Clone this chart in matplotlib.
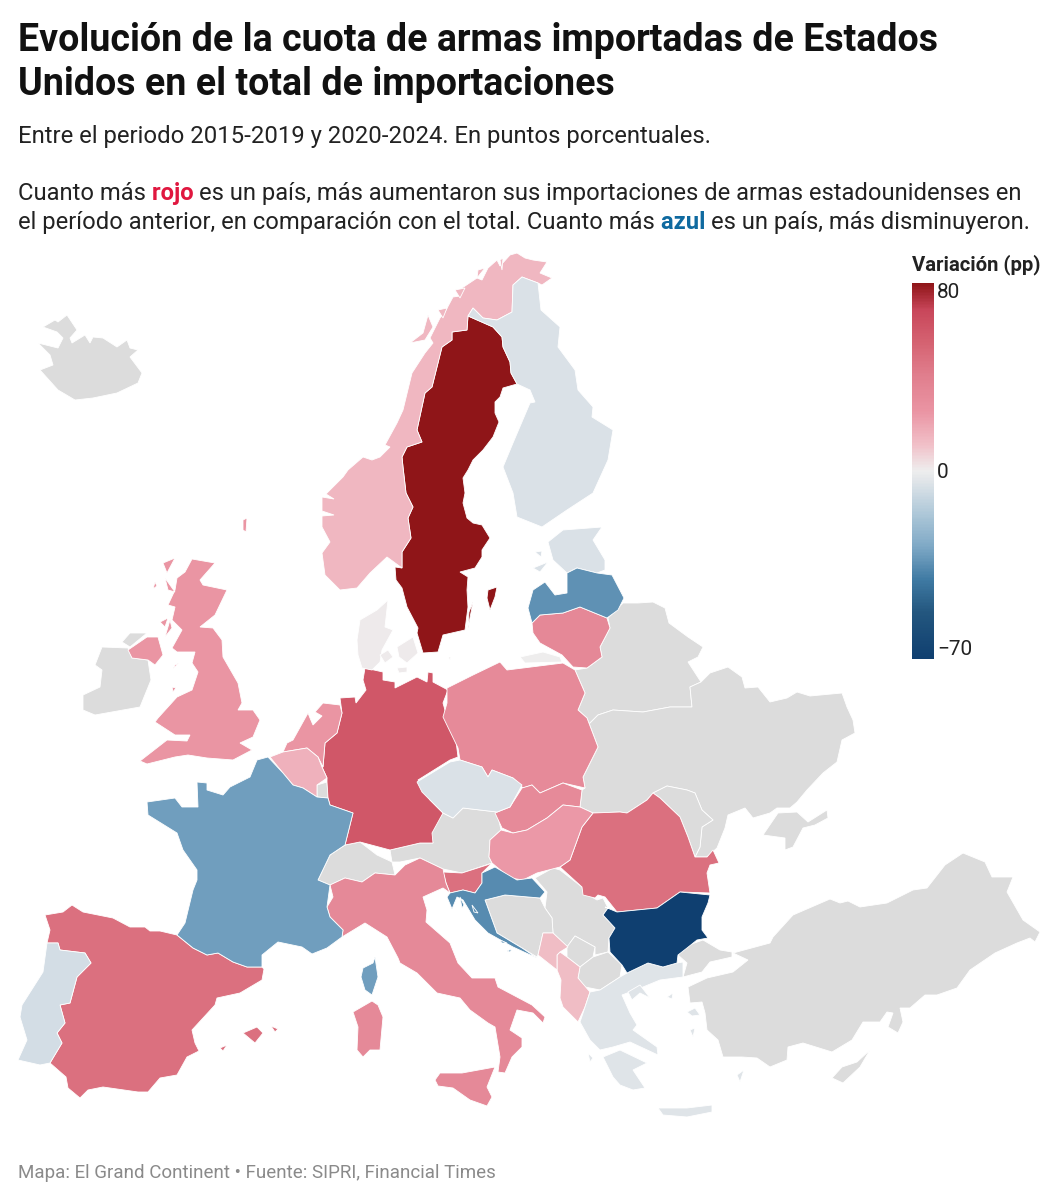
import matplotlib
matplotlib.use("Agg")
import matplotlib.pyplot as plt
from matplotlib.cm import ScalarMappable
from matplotlib.colors import LinearSegmentedColormap, TwoSlopeNorm
from matplotlib.patches import Polygon

plt.rcParams['font.family'] = ['Roboto', 'DejaVu Sans']

countries = ["SE", "DE", "ES", "RO", "SI", "IT", "PL", "SK", "LT", "UK", "NL", "HU", "NO", "BE",
             "AL", "ME", "DK", "KG", "FI", "PT", "GR", "CZ", "EE", "FR", "LV", "HR", "BG"]
values = [80, 60, 48, 48, 48, 33, 32, 32, 34, 25, 25, 24, 14, 16,
          12, 12, 1, 0, -5, -7, -4, -5, -5, -31, -34, -36, -70]
no_data = ["IS", "IE", "CH", "AT", "LU", "BY", "UA", "MD", "RS", "BA", "XK", "MK", "TR"]

legend_ticks = [-70, 0, 80]

title_lines = ["Evolución de la cuota de armas importadas de Estados",
               "Unidos en el total de importaciones"]
subtitle = "Entre el periodo 2015-2019 y 2020-2024. En puntos porcentuales."
source = "Mapa: El Grand Continent • Fuente: SIPRI, Financial Times"

# contornos trazados a mano sobre la imagen
shapes = {
    "SE": [[(468,316),(493,327),(502,337),(503,347),(510,362),(511,373),(517,384),(503,388),(500,397),(495,402),(495,413),(499,422),(493,437),(483,450),(473,460),(468,470),(463,478),(465,493),(463,503),(467,518),(473,523),(482,525),(490,538),(482,550),(482,557),(475,568),(460,572),(468,577),(467,590),(468,607),(465,630),(443,635),(438,652),(423,653),(417,633),(418,628),(407,607),(402,588),(396,580),(395,567),(402,568),(402,552),(411,538),(408,518),(413,507),(406,493),(403,467),(402,457),(407,447),(422,442),(417,430),(425,393),(432,387),(438,363),(442,347),(452,340),(452,332),(467,330)],
           [(488,590),(497,587),(495,597),(490,610),(487,598)],
           [(473,602),(468,628),(469,612)]],
    "NO": [[(547,262),(540,273),(552,278),(542,285),(538,283),(522,277),(513,285),(512,312),(497,320),(483,318),(473,308),(468,316),(467,330),(452,332),(452,340),(442,347),(438,363),(432,387),(425,393),(417,430),(422,442),(407,447),(402,457),(403,467),(406,493),(413,507),(408,518),(411,538),(402,552),(402,568),(387,557),(370,573),(357,588),(340,590),(325,575),(322,553),(330,542),(322,527),(322,516),(334,515),(322,511),(322,497),(334,499),(326,494),(343,477),(348,470),(363,457),(372,460),(380,457),(390,447),(385,445),(397,423),(403,410),(412,373),(425,353),(433,343),(430,338),(440,318),(445,312),(453,297),(460,296),(462,288),(477,278),(482,280),(488,268),(497,260),(500,266),(510,255),(517,253),(525,258),(533,260)],
           [(410,343),(423,333),(428,315),(433,327),(425,340)],
           [(438,310),(447,308),(443,318)],
           [(455,290),(465,288),(460,298)],
           [(478,270),(485,268),(477,278)],
           [(500,260),(503,258),(502,270)]],
    "FI": [[(522,277),(538,283),(541,310),(560,327),(558,347),(575,370),(578,390),(593,407),(592,417),(613,430),(608,460),(593,493),(567,510),(542,527),(517,517),(513,493),(503,467),(513,443),(530,403),(535,402),(530,390),(517,384),(511,373),(510,362),(503,347),(502,337),(493,327),(468,316),(473,308),(483,318),(497,320),(512,312),(513,285)]],
    "EE": [[(548,542),(563,530),(602,527),(593,540),(605,560),(605,570),(597,573),(577,568),(567,573),(553,560)],
           [(533,568),(548,562),(540,572)],
           [(535,552),(542,551),(541,557)]],
    "LV": [[(528,608),(533,590),(545,582),(555,595),(567,593),(567,573),(577,568),(597,573),(612,575),(624,598),(618,610),(607,618),(580,607),(563,613),(540,615),(532,623)]],
    "LT": [[(532,623),(540,615),(563,613),(580,607),(607,618),(610,628),(600,647),(602,657),(587,668),(573,667),(562,655),(540,643),(533,633)]],
    "DK": [[(388,600),(385,627),(393,630),(382,650),(380,662),(372,670),(362,668),(358,655),(357,640),(360,620),(377,610)],
           [(397,647),(413,637),(418,653),(407,663),(399,657)],
           [(380,655),(388,650),(393,657),(385,663)],
           [(397,668),(407,667),(407,672),(399,673)],
           [(448,657),(451,657),(450,660)]],
    "KG": [[(520,657),(543,652),(560,657),(562,662),(525,663)]],
    "DE": [[(365,668),(383,672),(383,680),(395,682),(395,688),(417,677),(427,682),(428,672),(433,673),(433,682),(448,690),(443,703),(447,717),(455,733),(458,757),(450,760),(418,780),(430,800),(443,813),(432,833),(433,843),(420,843),(390,850),(360,842),(345,845),(353,813),(330,805),(328,798),(327,782),(327,778),(322,767),(323,767),(325,743),(337,733),(342,713),(340,698),(355,697),(356,703),(366,690),(363,680)]],
    "NL": [[(342,713),(340,705),(323,703),(315,712),(322,716),(313,725),(310,718),(308,713),(293,740),(287,743),(283,752),(307,748),(318,757),(323,767),(325,743),(337,733)]],
    "BE": [[(270,757),(283,752),(307,748),(318,757),(322,767),(327,778),(317,785),(317,797),(303,788),(293,785),(283,773)]],
    "LU": [[(317,785),(327,782),(328,798),(317,797)]],
    "FR": [[(268,757),(283,773),(293,785),(303,788),(317,797),(328,798),(330,805),(353,813),(345,845),(330,855),(318,880),(330,885),(327,907),(330,917),(343,930),(342,937),(327,948),(312,954),(302,947),(278,942),(262,955),(262,967),(247,967),(233,962),(218,953),(207,955),(193,948),(177,935),(185,923),(193,890),(197,880),(197,870),(183,850),(177,833),(148,815),(147,802),(175,798),(182,807),(198,807),(197,782),(207,783),(207,790),(223,795),(230,787),(250,777),(257,760)],
           [(375,957),(378,977),(372,995),(365,990),(361,977),(363,968),(373,963)]],
    "ES": [[(45,915),(63,912),(72,905),(83,912),(113,918),(130,927),(145,927),(150,931),(160,931),(177,935),(193,948),(207,955),(218,953),(233,962),(247,967),(262,967),(264,969),(262,980),(240,993),(217,998),(215,1005),(192,1030),(195,1043),(199,1051),(187,1057),(177,1075),(160,1078),(148,1092),(138,1092),(103,1087),(88,1090),(80,1098),(68,1088),(66,1077),(50,1063),(62,1043),(57,1033),(65,1023),(60,1005),(70,1003),(77,977),(91,963),(85,953),(60,950),(58,943),(47,943),(50,930)],
           [(243,1033),(257,1027),(263,1033),(255,1043)],
           [(271,1026),(278,1029),(275,1032)],
           [(220,1048),(227,1045),(223,1051)]],
    "PT": [[(47,943),(58,943),(60,950),(85,953),(91,963),(77,977),(70,1003),(60,1005),(65,1023),(57,1033),(62,1043),(50,1063),(40,1065),(18,1060),(27,1040),(20,1017),(22,1005),(43,972)]],
    "UK": [[(192,559),(215,563),(200,580),(203,585),(227,590),(215,615),(200,627),(213,628),(222,640),(223,657),(238,683),(242,703),(238,710),(253,710),(260,720),(253,737),(240,743),(252,750),(233,760),(207,758),(188,755),(175,757),(147,764),(140,761),(167,740),(187,741),(190,735),(175,735),(155,722),(158,718),(177,697),(192,690),(198,672),(192,663),(195,652),(177,652),(172,648),(182,630),(172,620),(175,607),(168,605),(175,590),(177,578),(185,572)],
           [(128,650),(147,637),(158,637),(163,655),(155,665),(148,660),(132,658)],
           [(163,563),(175,558),(167,573)],
           [(155,582),(157,586),(153,589)],
           [(165,578),(175,592),(168,590)],
           [(175,665),(179,663),(173,669)],
           [(172,687),(176,688),(173,692)],
           [(160,622),(168,618),(165,627)],
           [(170,620),(172,628),(165,637)],
           [(243,520),(247,518),(246,532),(243,530)]],
    "IE": [[(102,647),(128,648),(132,658),(148,660),(151,680),(140,707),(95,715),(83,710),(83,695),(100,687),(102,670),(95,665)],
           [(122,642),(130,633),(147,633),(130,647)]],
    "IS": [[(43,327),(55,320),(58,322),(67,315),(77,330),(70,338),(72,343),(85,335),(90,343),(93,337),(103,338),(117,347),(127,340),(130,348),(138,350),(130,357),(142,373),(138,383),(117,393),(93,398),(75,400),(58,390),(40,370),(53,365),(50,355),(38,343),(58,348),(63,338),(57,332)]],
    "PL": [[(447,688),(473,675),(500,662),(507,670),(563,663),(575,670),(585,693),(578,710),(587,718),(598,747),(583,777),(585,788),(563,783),(540,793),(532,785),(523,788),(513,778),(492,770),(488,777),(482,767),(460,760),(458,748),(443,717),(447,703)]],
    "CZ": [[(417,782),(450,762),(460,760),(482,767),(488,777),(492,770),(513,778),(522,785),(510,807),(497,812),(463,808),(453,818),(443,813),(422,792)]],
    "SK": [[(522,788),(532,785),(540,793),(563,783),(582,790),(580,807),(563,805),(547,818),(527,830),(513,833),(502,828),(495,813),(510,807)]],
    "HU": [[(501,830),(513,833),(527,830),(547,818),(563,805),(580,807),(593,813),(582,827),(570,860),(560,867),(537,873),(523,880),(510,878),(492,863),(489,857),(490,840)]],
    "RO": [[(593,813),(620,812),(627,813),(647,800),(653,793),(660,798),(680,817),(688,837),(695,857),(707,857),(713,850),(719,863),(710,865),(707,873),(710,893),(680,892),(657,908),(617,912),(605,897),(598,895),(595,898),(583,895),(582,887),(560,867),(570,860),(582,827)]],
    "BG": [[(605,907),(617,912),(657,908),(680,892),(710,895),(708,903),(702,917),(702,930),(708,938),(697,940),(687,948),(678,955),(677,963),(663,967),(648,963),(627,973),(622,965),(610,952),(609,938),(615,928),(603,915),(608,908)]],
    "RS": [[(535,878),(553,868),(560,870),(582,887),(583,892),(597,900),(603,898),(608,908),(603,915),(615,928),(609,938),(608,952),(595,955),(595,947),(575,936),(567,947),(553,933),(552,918),(545,908),(547,892)]],
    "BA": [[(485,900),(505,895),(540,898),(545,908),(552,918),(553,933),(543,933),(538,955),(537,957),(522,948),(497,933)]],
    "HR": [[(482,873),(495,867),(517,880),(532,878),(545,892),(540,898),(505,895),(485,900),(497,933),(522,948),(537,958),(513,947),(488,933),(475,920),(463,900),(457,897),(452,909),(447,897),(450,893),(463,890),(475,893),(482,883)],
           [(500,940),(507,943),(502,943)],
           [(507,951),(512,949),(510,952)],
           [(460,897),(464,905),(462,908)],
           [(472,905),(478,913),(474,912)]],
    "SI": [[(443,872),(462,873),(487,865),(492,863),(482,873),(482,883),(475,893),(463,890),(450,893),(446,883)]],
    "ME": [[(543,933),(553,933),(568,947),(560,952),(557,955),(557,970),(538,955)]],
    "AL": [[(557,955),(560,952),(567,957),(580,967),(578,978),(590,992),(585,1007),(578,1022),(563,1007),(560,998),(561,980),(557,970)]],
    "XK": [[(567,947),(575,936),(595,947),(593,957),(580,967),(567,957)]],
    "MK": [[(580,967),(593,957),(608,952),(622,965),(620,977),(600,990),(585,987),(578,978)]],
    "GR": [[(590,992),(600,990),(620,977),(627,973),(648,963),(663,967),(677,963),(683,962),(683,977),(660,980),(643,987),(622,995),(630,1013),(637,1025),(633,1030),(657,1047),(658,1055),(630,1042),(613,1047),(600,1050),(590,1040),(580,1022),(585,1007)],
           [(603,1057),(620,1050),(647,1063),(633,1070),(645,1088),(633,1090),(620,1085),(613,1077)],
           [(658,1108),(687,1108),(712,1105),(712,1112),(687,1117),(663,1115)],
           [(628,992),(640,985),(650,998),(640,993),(632,1000)],
           [(687,1012),(695,1008),(700,1015),(692,1016)],
           [(690,1030),(695,1028),(693,1037)],
           [(667,997),(673,993),(672,999)],
           [(588,1053),(593,1058),(590,1062)],
           [(737,1075),(744,1070),(740,1082)]],
    "TR": [[(683,947),(703,940),(720,950),(732,952),(732,957),(710,962),(702,972),(683,977),(687,963),(678,955)],
           [(733,953),(770,943),(773,937),(793,915),(830,899),(840,903),(848,901),(860,907),(887,903),(913,890),(927,888),(945,865),(963,853),(985,862),(992,877),(1013,877),(1007,892),(1023,920),(1040,932),(1035,942),(1030,938),(1017,943),(995,953),(970,970),(957,988),(937,995),(925,995),(910,1008),(900,1008),(903,1022),(898,1033),(888,1027),(893,1013),(887,1012),(880,1022),(863,1022),(852,1040),(832,1052),(803,1043),(788,1047),(787,1060),(770,1067),(757,1058),(742,1057),(723,1057),(718,1040),(707,1030),(705,1013),(702,1002),(690,1003),(688,987),(707,978),(733,972),(748,960)],
           [(832,1078),(842,1067),(857,1062),(870,1050),(860,1067),(843,1083)]],
    "CH": [[(318,880),(330,855),(345,845),(360,842),(377,855),(392,862),(395,875),(375,873),(362,882),(345,878),(330,885)]],
    "AT": [[(433,843),(430,832),(443,813),(453,818),(463,808),(497,812),(501,830),(490,840),(489,857),(492,863),(462,873),(443,869),(420,858),(400,862),(392,862),(390,850),(420,843)]],
    "IT": [[(330,885),(345,878),(362,882),(375,873),(395,875),(405,865),(420,858),(443,869),(446,883),(450,893),(443,888),(423,897),(427,910),(426,922),(450,943),(458,963),(472,978),(495,978),(498,987),(532,1005),(545,1017),(543,1023),(533,1013),(517,1010),(510,1030),(522,1038),(522,1047),(512,1057),(505,1073),(498,1072),(500,1057),(495,1027),(488,1023),(470,1010),(460,998),(437,993),(417,973),(400,963),(398,958),(387,937),(365,923),(342,937),(343,930),(330,917),(327,907),(333,897)],
           [(372,1001),(378,1005),(383,1017),(380,1050),(370,1050),(363,1057),(357,1050),(358,1027),(353,1012)],
           [(435,1080),(440,1073),(462,1073),(495,1067),(487,1087),(492,1097),(487,1106),(470,1100),(453,1088),(438,1086)]],
    "BY": [[(608,618),(623,603),(638,603),(653,602),(665,608),(669,623),(688,637),(703,647),(698,657),(688,662),(701,682),(690,687),(692,707),(670,707),(643,712),(613,710),(598,715),(588,725),(587,718),(578,710),(585,693),(575,670),(587,668),(602,657),(600,647),(610,628)]],
    "UA": [[(587,718),(588,725),(598,715),(613,710),(643,712),(670,707),(692,707),(690,687),(701,682),(710,673),(728,667),(742,677),(745,688),(758,687),(770,702),(787,698),(797,692),(810,696),(842,693),(847,707),(853,720),(855,733),(842,740),(837,762),(823,773),(807,790),(797,802),(790,808),(777,808),(770,813),(753,818),(745,808),(728,815),(725,828),(717,848),(707,857),(695,857),(700,847),(702,827),(713,820),(702,810),(695,793),(687,790),(667,786),(653,793),(647,800),(627,813),(620,812),(593,813),(580,807),(582,790),(585,788),(583,777),(598,747)],
           [(763,835),(778,813),(797,812),(808,822),(827,810),(828,818),(815,825),(803,828),(793,847),(785,850),(785,838)]],
    "MD": [[(653,793),(667,786),(687,790),(695,793),(702,810),(713,820),(702,827),(700,847),(695,857),(688,837),(680,817),(660,798)]],
}

fig = plt.figure(figsize=(10.58, 12), dpi=100)
ax = fig.add_axes([0, 0, 1, 1])
ax.set_xlim(0, 1058)
ax.set_ylim(1200, 0)
ax.axis("off")

cmap = LinearSegmentedColormap.from_list("rojo_azul", [
    (0, "#0f3f70"), (.125, "#24577f"), (.21, "#3f7aa3"), (.30, "#7fa9c6"), (.39, "#b0c9d9"),
    (.48, "#e4e7ea"), (.5, "#eeeeee"), (.57, "#f1c0c8"), (.66, "#ea94a3"), (.76, "#e07d8c"),
    (.85, "#d4606f"), (.93, "#c8465a"), (1, "#8f1518")])
norm = TwoSlopeNorm(vmin=-70, vcenter=0, vmax=80)

for name in no_data:
    for ring in shapes[name]:
        ax.add_patch(Polygon(ring, facecolor="#dcdcdc", edgecolor="white", linewidth=0.6))
for name, val in zip(countries, values):
    for ring in shapes[name]:
        ax.add_patch(Polygon(ring, facecolor=cmap(norm(val)), edgecolor="white", linewidth=0.6))

# titulo
for y, line in zip([51, 95], title_lines):
    ax.text(18, y, line, fontsize=27, fontweight="bold", color="#111111", va="baseline")
ax.text(18, 143, subtitle, fontsize=17.17, color="#222222", va="baseline")


# texto con palabras de colores
def rich_line(x, y, parts):
    rend = fig.canvas.get_renderer()
    for txt, col, wgt in parts:
        t = ax.text(x, y, txt, fontsize=17.15, color=col, fontweight=wgt, va="baseline")
        x = t.get_window_extent(rend).x1


rich_line(18, 200, [("Cuanto más ", "#222222", "normal"), ("rojo ", "#e0173f", "bold"),
                    ("es un país, más aumentaron sus importaciones de armas estadounidenses en", "#222222", "normal")])
rich_line(18, 229, [("el período anterior, en comparación con el total. Cuanto más ", "#222222", "normal"),
                    ("azul ", "#0f6aa0", "bold"), ("es un país, más disminuyeron.", "#222222", "normal")])

ax.text(18, 1178, source, fontsize=13.5, color="#8a8a8a", va="baseline")

# leyenda
ax.text(912, 270, "Variación (pp)", fontsize=14.6, fontweight="bold", color="#222222", va="baseline")
cax = fig.add_axes([912 / 1058, 1 - 659 / 1200, 22 / 1058, 376 / 1200])
cb = fig.colorbar(ScalarMappable(norm=norm, cmap=cmap), cax=cax, ticks=legend_ticks)
cb.outline.set_visible(False)
cb.ax.tick_params(length=0, pad=2, labelsize=15, labelcolor="#222222")
labels = cb.ax.get_yticklabels()
labels[0].set_verticalalignment("bottom")
labels[2].set_verticalalignment("top")

fig.savefig("out.png", dpi=100)
